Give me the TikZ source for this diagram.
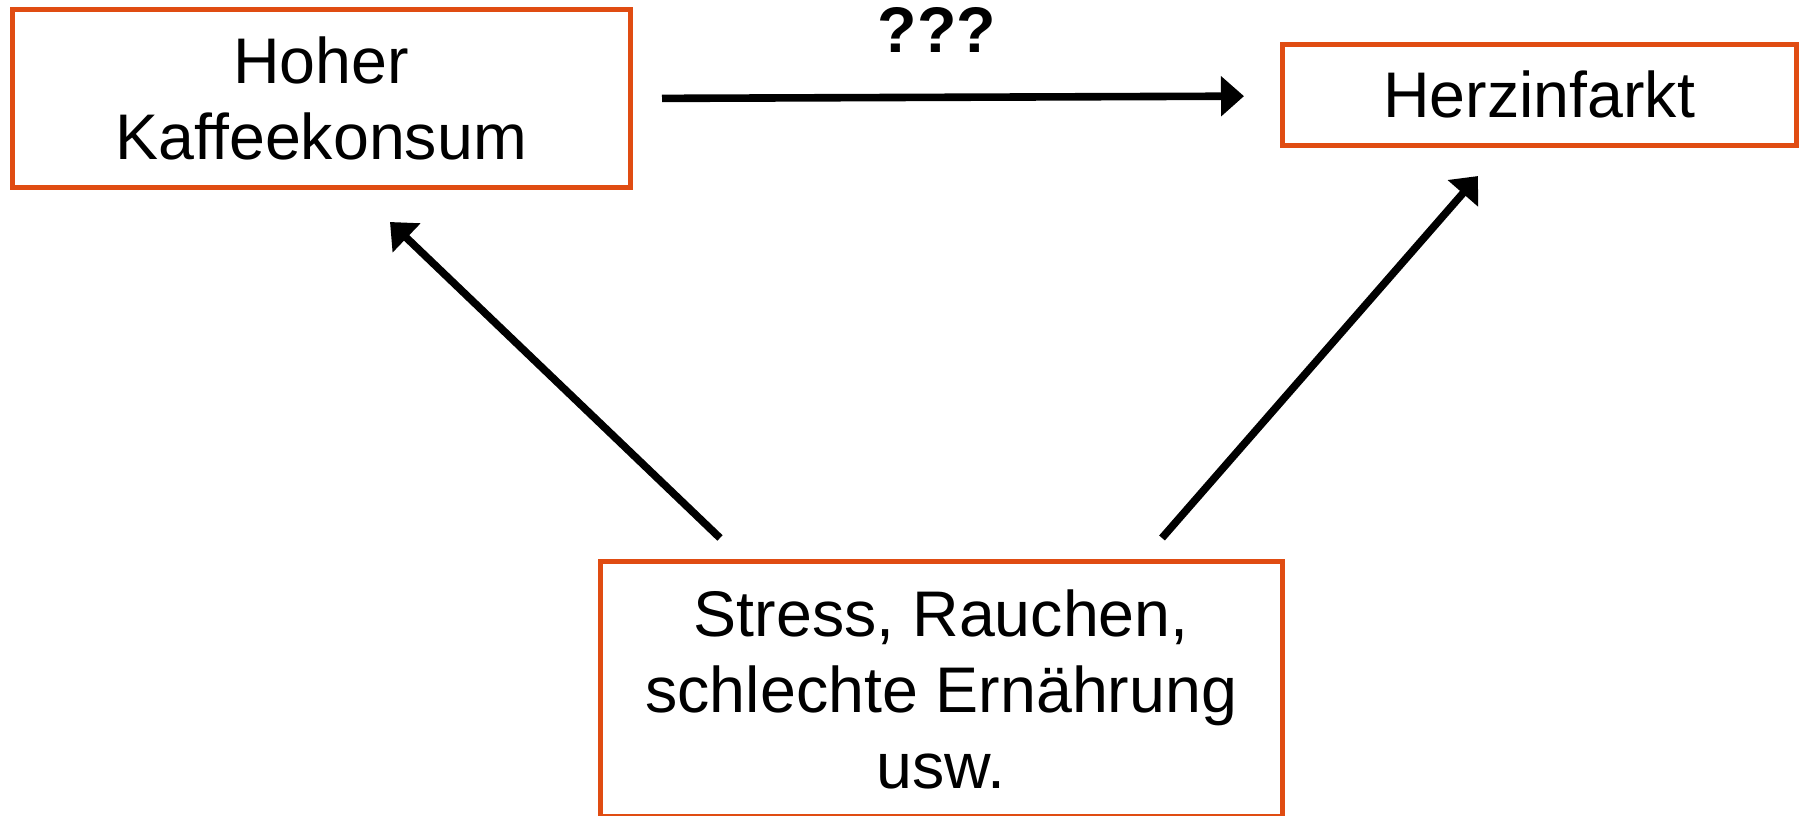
\documentclass[tikz,border=0pt]{standalone}
\usepackage{fontspec}
\setmainfont{Liberation Sans}
\usetikzlibrary{arrows.meta}
\definecolor{boxorange}{RGB}{224,76,18}
\begin{document}
\begin{tikzpicture}[x=1pt,y=-1pt,
  box/.style={draw=boxorange, line width=5pt, outer sep=0pt, inner sep=0pt, align=center, font=\fontsize{64.5}{76}\selectfont},
  arr/.style={line width=7.6pt, -{Triangle[length=23pt,width=39pt]}}]
\node[box, minimum width=618.5pt, minimum height=177.5pt] (kaffee) at (321.25,98.25) {Hoher\\Kaffeekonsum};
\node[box, minimum width=514.5pt, minimum height=101pt] (herz) at (1539.25,94.5) {Herzinfarkt};
\node[box, minimum width=681.4pt, minimum height=254.8pt] (stress) at (941.3,689.1) {Stress, Rauchen,\\schlechte Ernährung\\usw.};
\node[font=\bfseries\fontsize{64.5}{76}\selectfont, anchor=base, inner sep=0pt] (q) at (937,52) {???};
\draw[arr, shorten <=31.5pt, shorten >=38pt] ([yshift=-0.25pt]kaffee.east) -- ([yshift=-1.5pt]herz.west);
\draw[arr, shorten <=34.3pt, shorten >=50.6pt] ([xshift=144.15pt]stress.north west) -- ([xshift=341.45pt]kaffee.south west);
\draw[arr, shorten <=31.5pt, shorten >=41.2pt] ([xshift=540.7pt]stress.north west) -- ([xshift=223.06pt]herz.south west);
\pgfresetboundingbox
\useasboundingbox (0,0) rectangle (1802,815);
\end{tikzpicture}
\end{document}
